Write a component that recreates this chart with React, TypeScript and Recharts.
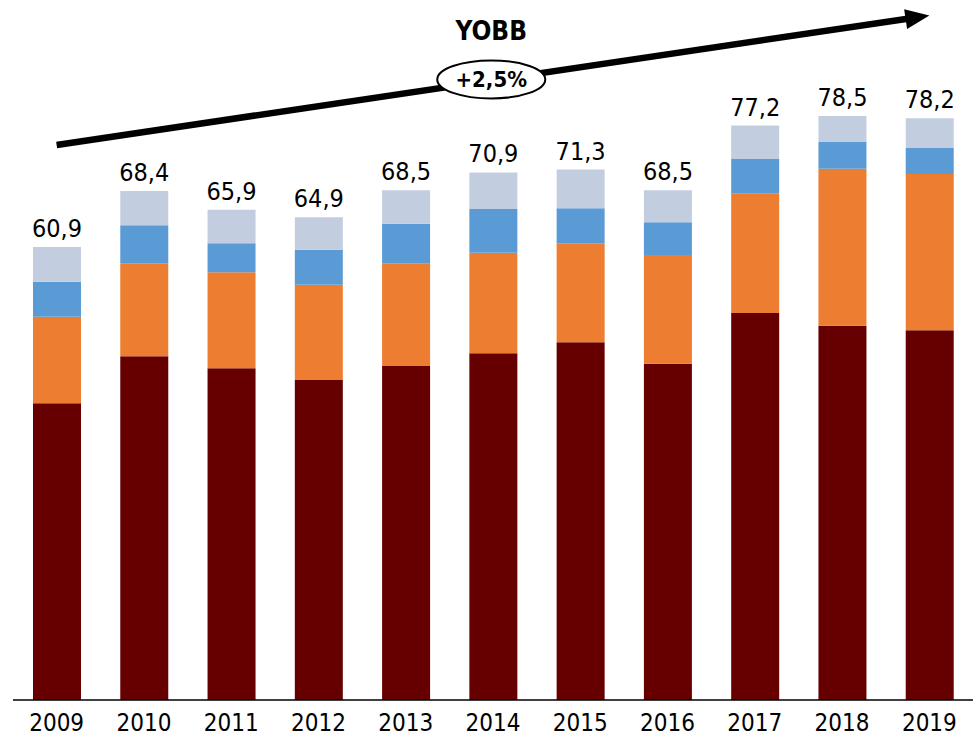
import { BarChart, Bar, XAxis, YAxis, LabelList, ReferenceLine } from "recharts";

const years = ["2009", "2010", "2011", "2012", "2013", "2014", "2015", "2016", "2017", "2018", "2019"];
const base = [39.9, 46.2, 44.6, 43.0, 44.9, 46.6, 48.1, 45.2, 52.0, 50.3, 49.7];
const orange = [11.6, 12.5, 12.9, 12.8, 13.8, 13.5, 13.3, 14.6, 16.1, 21.1, 21.0];
const blue = [4.7, 5.1, 3.9, 4.7, 5.3, 5.9, 4.7, 4.4, 4.6, 3.6, 3.5];
const light = [4.7, 4.6, 4.5, 4.4, 4.5, 4.9, 5.2, 4.3, 4.5, 3.5, 4.0];
const totals = [60.9, 68.4, 65.9, 64.9, 68.5, 70.9, 71.3, 68.5, 77.2, 78.5, 78.2];

const trendStart = 74.6;
const trendEnd = 92;

const data = years.map((year, i) => ({
  year,
  base: base[i],
  orange: orange[i],
  blue: blue[i],
  light: light[i],
  total: totals[i],
}));

const FONT = '"DejaVu Sans Condensed", "DejaVu Sans", sans-serif';

const fmt = (v: number) => v.toFixed(1).replace(".", ",");

function TrendArrow(props: any) {
  const { x1, y1, x2, y2 } = props;
  const dx = x2 - x1;
  const dy = y2 - y1;
  const len = Math.sqrt(dx * dx + dy * dy);
  const ux = dx / len;
  const uy = dy / len;
  const headLen = 24;
  const headW = 10;
  const bx = x2 - ux * headLen;
  const by = y2 - uy * headLen;
  const mx = x1 + dx * 0.498;
  const my = y1 + dy * 0.498;
  return (
    <g>
      <line x1={x1} y1={y1} x2={bx + ux * 2} y2={by + uy * 2} stroke="#000" strokeWidth={6.5} />
      <polygon
        points={`${x2},${y2} ${bx - uy * headW},${by + ux * headW} ${bx + uy * headW},${by - ux * headW}`}
        fill="#000"
      />
      <ellipse cx={mx} cy={my - 1} rx={54} ry={19} fill="#fff" stroke="#000" strokeWidth={2} />
      <text x={mx} y={my + 7} textAnchor="middle" fontFamily={FONT} fontWeight="bold" fontSize={22} fill="#000">
        +2,5%
      </text>
      <text x={mx} y={my - 40} textAnchor="middle" fontFamily={FONT} fontWeight="bold" fontSize={26} fill="#000">
        YOBB
      </text>
    </g>
  );
}

export default function App() {
  return (
    <div style={{ position: "absolute", left: 0, top: 0, width: 973, height: 742, background: "#fff" }}>
      <BarChart
        width={973}
        height={742}
        data={data}
        margin={{ top: 15.5, right: 0, bottom: 0, left: 13 }}
        barSize={48}
      >
        <XAxis
          dataKey="year"
          axisLine={{ stroke: "#000", strokeWidth: 1.5 }}
          tickLine={false}
          height={42}
          tick={{ fontSize: 24, fill: "#000", fontFamily: FONT }}
          tickMargin={8}
          interval={0}
        />
        <YAxis hide domain={[0, 92]} />
        <Bar dataKey="base" stackId="a" fill="#660000" isAnimationActive={false} />
        <Bar dataKey="orange" stackId="a" fill="#ED7D31" isAnimationActive={false} />
        <Bar dataKey="blue" stackId="a" fill="#5B9BD5" isAnimationActive={false} />
        <Bar dataKey="light" stackId="a" fill="#C3CDE0" isAnimationActive={false}>
          <LabelList
            dataKey="total"
            position="top"
            offset={10}
            formatter={(v: any) => fmt(Number(v))}
            style={{ fontSize: 25, fill: "#000", fontFamily: FONT }}
          />
        </Bar>
        <ReferenceLine
          segment={[
            { x: "2009", y: trendStart },
            { x: "2019", y: trendEnd },
          ]}
          ifOverflow="visible"
          shape={(p: any) => <TrendArrow {...p} />}
        />
      </BarChart>
    </div>
  );
}
